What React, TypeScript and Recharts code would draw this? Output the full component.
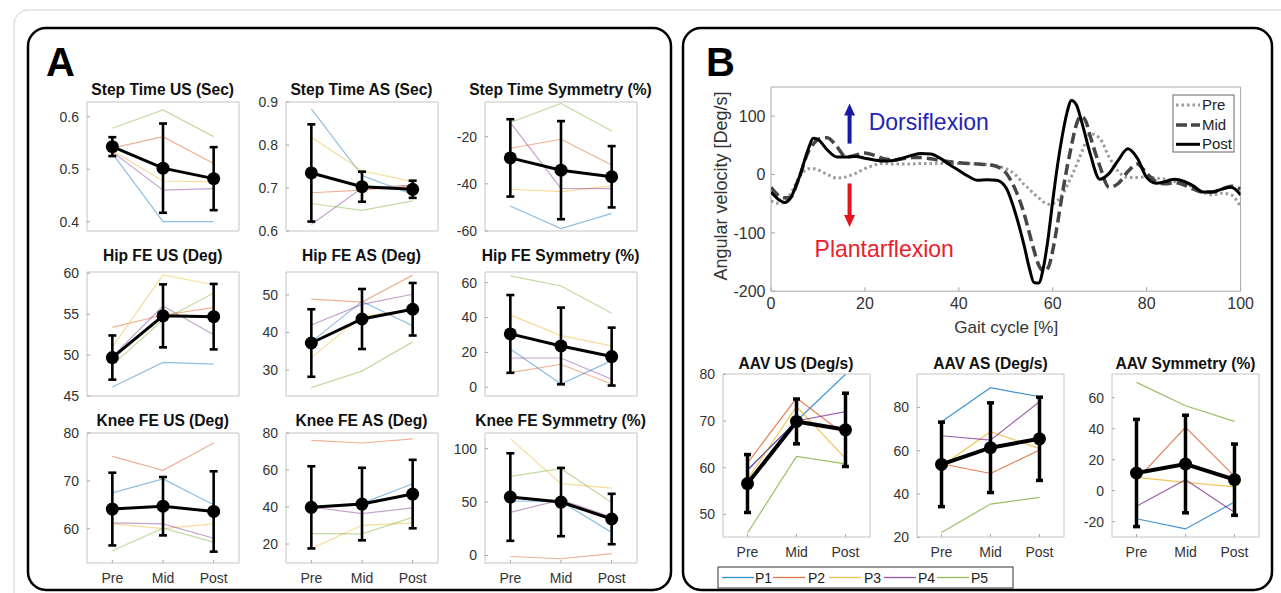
import React from 'react';
import { LineChart, Line, XAxis, YAxis, ErrorBar, ReferenceArea, ReferenceLine, ReferenceDot } from 'recharts';

const FONT = '"Liberation Sans", Arial, Helvetica, sans-serif';

// ---------- categories ----------
const phases = ['Pre', 'Mid', 'Post'];
const phaseX = [1, 2, 3];
const participants = ['P1', 'P2', 'P3', 'P4', 'P5'];
const participantColors = ['#0072BD', '#D95319', '#EDB120', '#7E2F8E', '#77AC30'];

// ---------- Panel A values (rows: P1..P5, columns: Pre, Mid, Post) ----------
const stepTimeUS = [[0.53, 0.4, 0.4], [0.54, 0.562, 0.511], [0.535, 0.4775, 0.476], [0.533, 0.46, 0.463], [0.578, 0.613, 0.562]];
const stepTimeUSMean = [0.543, 0.502, 0.482];
const stepTimeUSSd = [0.018, 0.085, 0.06];

const stepTimeAS = [[0.884, 0.729, 0.685], [0.689, 0.695, 0.705], [0.818, 0.74, 0.715], [0.615, 0.7, 0.707], [0.664, 0.648, 0.67]];
const stepTimeASMean = [0.735, 0.703, 0.697];
const stepTimeASSd = [0.113, 0.035, 0.02];

const stepTimeSym = [[-49.4, -59, -52.5], [-24.9, -21.1, -32], [-42.3, -43.3, -40.9], [-14, -41.9, -42], [-14, -5.9, -17.6]];
const stepTimeSymMean = [-29, -34.2, -37];
const stepTimeSymSd = [16.4, 20.8, 13];

const hipUS = [[46.1, 49.1, 48.9], [53.4, 54.9, 55.8], [51, 59.8, 58.6], [49.8, 56, 52.5], [48.8, 54.3, 57.6]];
const hipUSMean = [49.7, 54.8, 54.7];
const hipUSSd = [2.7, 3.85, 4.0];

const hipAS = [[37.5, 48.3, 41.8], [48.9, 48.1, 55.3], [33.3, 44.4, 46], [42, 47.5, 50.2], [25.3, 29.7, 37.5]];
const hipASMean = [37.2, 43.6, 46.2];
const hipASSd = [9, 8, 7];

const hipSym = [[22, 1.9, 15.3], [8.4, 13.2, 1.9], [41.5, 29.6, 23.7], [16.8, 16.8, 4.6], [63.9, 58.1, 42.4]];
const hipSymMean = [30.6, 23.7, 17.6];
const hipSymSd = [22.3, 22, 16.6];

const kneeUS = [[67.5, 70.4, 65], [75.1, 72.2, 77.9], [61, 60, 61], [61.2, 61, 58], [55.4, 60.1, 57.2]];
const kneeUSMean = [64.1, 64.7, 63.6];
const kneeUSSd = [7.6, 6.1, 8.4];

const kneeAS = [[40, 42, 52.6], [76, 74.6, 76.8], [17.5, 30.1, 31.4], [40, 36.4, 39.5], [25.6, 25.5, 34.4]];
const kneeASMean = [39.8, 41.6, 47];
const kneeASSd = [22.2, 19.6, 18.5];

const kneeSym = [[51, 50.5, 21.6], [-1, -3.1, 1.6], [109.4, 67.2, 63.1], [40.3, 52, 36], [74, 81.3, 49.7]];
const kneeSymMean = [54.7, 50, 34.1];
const kneeSymSd = [41, 32, 23.6];

// ---------- Panel B values ----------
const aavUS = [[59.5, 70, 80], [61, 74.9, 67], [57.5, 73.1, 62], [59.5, 70, 72], [46, 62.4, 60.8]];
const aavUSMean = [56.6, 69.9, 68.1];
const aavUSSd = [6.2, 4.8, 7.85];

const aavAS = [[73.4, 89.1, 84.9], [54, 49.5, 60.3], [53, 68.8, 61], [66.9, 64.9, 82.6], [22.3, 35.4, 38.5]];
const aavASMean = [53.7, 61.4, 65.5];
const aavASSd = [19.5, 20.7, 19.2];

const aavSym = [[-18.1, -24.7, -7.3], [7, 40.9, 9.2], [8.6, 5.4, 2.4], [-10.1, 7.1, -14], [69.9, 54.8, 44.7]];
const aavSymMean = [11.4, 17.2, 7.1];
const aavSymSd = [34.6, 31.5, 23];

// Angular velocity over the gait cycle
const gaitPct = [0, 2, 3, 4, 6, 8, 9, 10, 12, 14, 16, 18, 20, 22, 24, 26, 28, 30, 32, 34, 36, 38, 40, 42, 44, 46, 48, 50, 52, 54, 55, 56, 57, 58, 59, 60, 61, 62, 63, 64, 65, 66, 67, 68, 70, 72, 74, 76, 78, 80, 82, 84, 86, 88, 90, 92, 94, 96, 98, 100];
const velPre = [-45, -50, -45, -35, -5, 10, 10, 8, 0, -6, -4, 2, 10, 16, 19, 18, 18, 18, 19, 19, 19, 19, 19, 19, 18, 17, 15, 10, 0, -18, -25, -33, -40, -47, -51, -50, -45, -35, -20, -3, 15, 35, 55, 70, 62, 30, 5, -5, -5, -4, -6, -8, -12, -15, -22, -30, -35, -32, -35, -55];
const velMid = [-22, -38, -40, -40, -5, 40, 52, 60, 63, 48, 30, 33, 37, 33, 27, 25, 27, 29, 29, 27, 24, 22, 20, 19, 18, 17, 14, 3, -25, -70, -100, -130, -155, -165, -160, -130, -85, -35, 10, 50, 85, 100, 92, 65, 15, -22, -15, 5, 18, 2, -12, -16, -14, -18, -25, -30, -30, -25, -20, -25];
const velPost = [-30, -45, -48, -42, -5, 45, 62, 60, 42, 30, 30, 31, 28, 25, 23, 24, 28, 33, 36, 35, 28, 17, 7, -3, -10, -9, -10, -22, -65, -125, -160, -185, -186, -160, -110, -45, 15, 65, 105, 127, 120, 95, 65, 35, -8, 2, 25, 44, 28, -5, -15, -12, -8, -12, -20, -30, -30, -25, -22, -35];
const velXTicks = [0, 20, 40, 60, 80, 100];
const velYTicks = [-200, -100, 0, 100];

// ---------- layout / options built from the arrays ----------
type Spec = {
  title: string; values: number[][]; mean: number[]; sd: number[];
  domain: [number, number]; ticks: number[]; decimals: number;
  left: number; top: number; width: number; height: number; titleY: number;
  showX: boolean; variant: 'A' | 'B';
};

const COLA = [86.7, 285.5, 484.5];
const ROWA = [{ top: 102, h: 129, t: 95 }, { top: 272, h: 124, t: 260.5 }, { top: 433.3, h: 130, t: 425.5 }];

const specs: Spec[] = [
  { title: 'Step Time US (Sec)', values: stepTimeUS, mean: stepTimeUSMean, sd: stepTimeUSSd, domain: [0.3823, 0.628], ticks: [0.4, 0.5, 0.6], decimals: 1, left: COLA[0], top: ROWA[0].top, width: 152, height: ROWA[0].h, titleY: ROWA[0].t, showX: false, variant: 'A' },
  { title: 'Step Time AS (Sec)', values: stepTimeAS, mean: stepTimeASMean, sd: stepTimeASSd, domain: [0.6, 0.9], ticks: [0.6, 0.7, 0.8, 0.9], decimals: 1, left: COLA[1], top: ROWA[0].top, width: 152, height: ROWA[0].h, titleY: ROWA[0].t, showX: false, variant: 'A' },
  { title: 'Step Time Symmetry (%)', values: stepTimeSym, mean: stepTimeSymMean, sd: stepTimeSymSd, domain: [-60, -5.3], ticks: [-60, -40, -20], decimals: 0, left: COLA[2], top: ROWA[0].top, width: 152, height: ROWA[0].h, titleY: ROWA[0].t, showX: false, variant: 'A' },
  { title: 'Hip FE US (Deg)', values: hipUS, mean: hipUSMean, sd: hipUSSd, domain: [45, 60.16], ticks: [45, 50, 55, 60], decimals: 0, left: COLA[0], top: ROWA[1].top, width: 152, height: ROWA[1].h, titleY: ROWA[1].t, showX: false, variant: 'A' },
  { title: 'Hip FE AS (Deg)', values: hipAS, mean: hipASMean, sd: hipASSd, domain: [23.07, 56.13], ticks: [30, 40, 50], decimals: 0, left: COLA[1], top: ROWA[1].top, width: 152, height: ROWA[1].h, titleY: ROWA[1].t, showX: false, variant: 'A' },
  { title: 'Hip FE Symmetry (%)', values: hipSym, mean: hipSymMean, sd: hipSymSd, domain: [-5, 66.1], ticks: [0, 20, 40, 60], decimals: 0, left: COLA[2], top: ROWA[1].top, width: 152, height: ROWA[1].h, titleY: ROWA[1].t, showX: false, variant: 'A' },
  { title: 'Knee FE US (Deg)', values: kneeUS, mean: kneeUSMean, sd: kneeUSSd, domain: [52.83, 80], ticks: [60, 70, 80], decimals: 0, left: COLA[0], top: ROWA[2].top, width: 152, height: ROWA[2].h, titleY: ROWA[2].t, showX: true, variant: 'A' },
  { title: 'Knee FE AS (Deg)', values: kneeAS, mean: kneeASMean, sd: kneeASSd, domain: [9.73, 80], ticks: [20, 40, 60, 80], decimals: 0, left: COLA[1], top: ROWA[2].top, width: 152, height: ROWA[2].h, titleY: ROWA[2].t, showX: true, variant: 'A' },
  { title: 'Knee FE Symmetry (%)', values: kneeSym, mean: kneeSymMean, sd: kneeSymSd, domain: [-7.1, 114.7], ticks: [0, 50, 100], decimals: 0, left: COLA[2], top: ROWA[2].top, width: 152, height: ROWA[2].h, titleY: ROWA[2].t, showX: true, variant: 'A' },
  { title: 'AAV US (Deg/s)', values: aavUS, mean: aavUSMean, sd: aavUSSd, domain: [45.15, 80.06], ticks: [50, 60, 70, 80], decimals: 0, left: 722.5, top: 374, width: 147, height: 163, titleY: 369, showX: true, variant: 'B' },
  { title: 'AAV AS (Deg/s)', values: aavAS, mean: aavASMean, sd: aavASSd, domain: [20.2, 95.4], ticks: [20, 40, 60, 80], decimals: 0, left: 917, top: 374, width: 147, height: 163, titleY: 369, showX: true, variant: 'B' },
  { title: 'AAV Symmetry (%)', values: aavSym, mean: aavSymMean, sd: aavSymSd, domain: [-29.9, 75.3], ticks: [-20, 0, 20, 40, 60], decimals: 0, left: 1112, top: 374, width: 147, height: 163, titleY: 369, showX: true, variant: 'B' },
];

const TICK_STROKE = '#a8a8a8';

function SmallPlot({ spec }: { spec: Spec }) {
  const ML = 50, MT = 12, MR = 6, MB = 34;
  const isB = spec.variant === 'B';
  const rows = phaseX.map((x, i) => {
    const r: any = { x, mean: spec.mean[i], sd: spec.sd[i] };
    participants.forEach((p, j) => { r[p] = spec.values[j][i]; });
    return r;
  });
  return (
    <div style={{ position: 'absolute', left: spec.left - ML, top: spec.top - MT }}>
      <LineChart width={spec.width + ML + MR} height={spec.height + MT + MB} data={rows}
        margin={{ top: MT, right: MR, left: 0, bottom: 0 }}>
        <XAxis type="number" dataKey="x" domain={[0.5, 3.5]} allowDataOverflow ticks={phaseX}
          tickFormatter={(v: number) => phases[v - 1]} height={MB} axisLine={false}
          tickLine={{ stroke: TICK_STROKE }} tickSize={-3} tickMargin={13} interval={0}
          tick={spec.showX ? { fontSize: 14, fill: '#333' } : false} />
        <XAxis xAxisId="top" orientation="top" type="number" domain={[0.5, 3.5]} allowDataOverflow
          ticks={phaseX} height={0} axisLine={false} tickLine={{ stroke: TICK_STROKE }} tickSize={-3}
          tick={false} interval={0} />
        <YAxis type="number" domain={spec.domain} allowDataOverflow ticks={spec.ticks} width={ML}
          axisLine={false} tickLine={{ stroke: TICK_STROKE }} tickSize={-3} tickMargin={11} interval={0}
          tick={{ fontSize: 14, fill: '#333' }}
          tickFormatter={(v: number) => v.toFixed(spec.decimals)} />
        <YAxis yAxisId="right" orientation="right" type="number" domain={spec.domain} allowDataOverflow
          ticks={spec.ticks} width={0} axisLine={false} tickLine={{ stroke: TICK_STROKE }} tickSize={-3}
          tick={false} interval={0} />
        <ReferenceArea x1={0.5} x2={3.5} y1={spec.domain[0]} y2={spec.domain[1]} fill="none"
          stroke="#c4c4c4" strokeWidth={1} />
        {participants.map((p, j) => (
          <Line key={p} dataKey={p} stroke={participantColors[j]} strokeOpacity={isB ? 0.75 : 0.45}
            strokeWidth={1.2} dot={false} isAnimationActive={false} />
        ))}
        <Line dataKey="mean" stroke="#000" strokeWidth={isB ? 4 : 3}
          dot={{ r: 6.5, fill: '#000', stroke: '#000', strokeWidth: 0 }} isAnimationActive={false}>
          <ErrorBar dataKey="sd" width={isB ? 3.5 : 4} strokeWidth={isB ? 3.5 : 2.6} stroke="#000" direction="y" />
        </Line>
      </LineChart>
    </div>
  );
}

const VEL = { left: 771.4, top: 86.8, width: 469.6, height: 204.2 };

function VelocityPlot() {
  const ML = 60, MT = 12, MR = 24, MB = 28;
  const rows = gaitPct.map((x, i) => ({ x, pre: velPre[i], mid: velMid[i], post: velPost[i] }));
  const upHead = (p: any) => (
    <polygon points={`${p.cx},${p.cy} ${p.cx - 5.5},${p.cy + 12} ${p.cx + 5.5},${p.cy + 12}`} fill="#1a1aa8" />
  );
  const downHead = (p: any) => (
    <polygon points={`${p.cx},${p.cy} ${p.cx - 5.5},${p.cy - 12} ${p.cx + 5.5},${p.cy - 12}`} fill="#e8141c" />
  );
  return (
    <div style={{ position: 'absolute', left: VEL.left - ML, top: VEL.top - MT }}>
      <LineChart width={VEL.width + ML + MR} height={VEL.height + MT + MB} data={rows}
        margin={{ top: MT, right: MR, left: 0, bottom: 0 }}>
        <XAxis type="number" dataKey="x" domain={[0, 100]} allowDataOverflow ticks={velXTicks}
          height={MB} axisLine={false} tickLine={{ stroke: TICK_STROKE }} tickSize={-4} tickMargin={10} interval={0}
          tick={{ fontSize: 16, fill: '#333' }} />
        <XAxis xAxisId="top" orientation="top" type="number" domain={[0, 100]} allowDataOverflow
          ticks={velXTicks} height={0} axisLine={false} tickLine={{ stroke: TICK_STROKE }} tickSize={-4}
          tick={false} interval={0} />
        <YAxis type="number" domain={[-200, 150]} allowDataOverflow ticks={velYTicks} width={ML}
          axisLine={false} tickLine={{ stroke: TICK_STROKE }} tickSize={-4} tickMargin={9.5} interval={0}
          tick={{ fontSize: 16, fill: '#333' }} />
        <YAxis yAxisId="right" orientation="right" type="number" domain={[-200, 150]} allowDataOverflow
          ticks={velYTicks} width={0} axisLine={false} tickLine={{ stroke: TICK_STROKE }} tickSize={-4}
          tick={false} interval={0} />
        <ReferenceArea x1={0} x2={100} y1={-200} y2={150} fill="none" stroke="#aaa" strokeWidth={1} />
        <Line dataKey="pre" type="monotone" stroke="#9a9a9a" strokeWidth={3} strokeDasharray="2.5 3"
          dot={false} isAnimationActive={false} />
        <Line dataKey="mid" type="monotone" stroke="#464646" strokeWidth={3.5} strokeDasharray="11 5"
          dot={false} isAnimationActive={false} />
        <Line dataKey="post" type="monotone" stroke="#000" strokeWidth={3}
          dot={false} isAnimationActive={false} />
        <ReferenceLine segment={[{ x: 16.73, y: 53 }, { x: 16.73, y: 103 }]} stroke="#1a1aa8" strokeWidth={4} />
        <ReferenceDot x={16.73} y={121.7} r={1} fill="none" stroke="none" shape={upHead} />
        <ReferenceLine segment={[{ x: 16.73, y: -15.4 }, { x: 16.73, y: -70 }]} stroke="#e8141c" strokeWidth={4} />
        <ReferenceDot x={16.73} y={-89.8} r={1} fill="none" stroke="none" shape={downHead} />
        <ReferenceDot x={20.6} y={90.2} r={1} fill="none" stroke="none"
          label={{ value: 'Dorsiflexion', position: 'right', offset: 0, fill: '#2424b4', fontSize: 23 }} />
        <ReferenceDot x={9.07} y={-126.9} r={1} fill="none" stroke="none"
          label={{ value: 'Plantarflexion', position: 'right', offset: 0, fill: '#e8202a', fontSize: 23 }} />
      </LineChart>
    </div>
  );
}

const legendB = [
  { x: 722, tx: 755 }, { x: 773, tx: 808 }, { x: 829, tx: 864 }, { x: 884, tx: 918 }, { x: 937, tx: 971 },
];

function Overlay() {
  return (
    <svg width={1281} height={593} style={{ position: 'absolute', left: 0, top: 0 }}>
      <rect x={14} y={10} width={1300} height={650} rx={14} fill="none" stroke="#d2d2d2" strokeWidth={1} />
      <rect x={28} y={28} width={643} height={562} rx={18} fill="none" stroke="#000" strokeWidth={2.5} />
      <rect x={683} y={28} width={589} height={562} rx={18} fill="none" stroke="#000" strokeWidth={2.5} />
      <text x={46} y={76} fontSize={40} fontWeight="bold" fill="#000">A</text>
      <text x={706} y={76} fontSize={40} fontWeight="bold" fill="#000">B</text>
      {specs.map((s) => (
        <text key={s.title} x={s.left + s.width / 2} y={s.titleY} fontSize={15.6} fontWeight="bold"
          textAnchor="middle" fill="#111">{s.title}</text>
      ))}
      <text x={0} y={0} fontSize={18} fill="#333" textAnchor="middle"
        transform={`translate(727, 186) rotate(-90)`}>Angular velocity [Deg/s]</text>
      <text x={VEL.left + VEL.width / 2} y={333} fontSize={17} fill="#333" textAnchor="middle">Gait cycle [%]</text>
      {/* velocity legend */}
      <rect x={1173} y={95} width={61} height={57} fill="#fff" stroke="#666" strokeWidth={1} />
      <line x1={1176} x2={1200} y1={105} y2={105} stroke="#9a9a9a" strokeWidth={3} strokeDasharray="2.5 3" />
      <text x={1202} y={110} fontSize={15} fill="#222">Pre</text>
      <line x1={1176} x2={1200} y1={125} y2={125} stroke="#464646" strokeWidth={3.5} strokeDasharray="11 4" />
      <text x={1202} y={130} fontSize={15} fill="#222">Mid</text>
      <line x1={1176} x2={1200} y1={144.3} y2={144.3} stroke="#000" strokeWidth={3} />
      <text x={1202} y={149.3} fontSize={15} fill="#222">Post</text>
      {/* participant legend */}
      <rect x={718} y={567} width={295} height={21} fill="#fff" stroke="#333" strokeWidth={1} />
      {participants.map((p, j) => (
        <g key={p}>
          <line x1={legendB[j].x} x2={legendB[j].x + 32} y1={577.5} y2={577.5} stroke={participantColors[j]}
            strokeOpacity={0.8} strokeWidth={1.3} />
          <text x={legendB[j].tx} y={582.5} fontSize={14} fill="#222">{p}</text>
        </g>
      ))}
    </svg>
  );
}

export default function App() {
  return (
    <div style={{ position: 'absolute', left: 0, top: 0, width: 1281, height: 593, background: '#fff', fontFamily: FONT, overflow: 'hidden' }}>
      <Overlay />
      {specs.map((s) => <SmallPlot key={s.title} spec={s} />)}
      <VelocityPlot />
    </div>
  );
}
